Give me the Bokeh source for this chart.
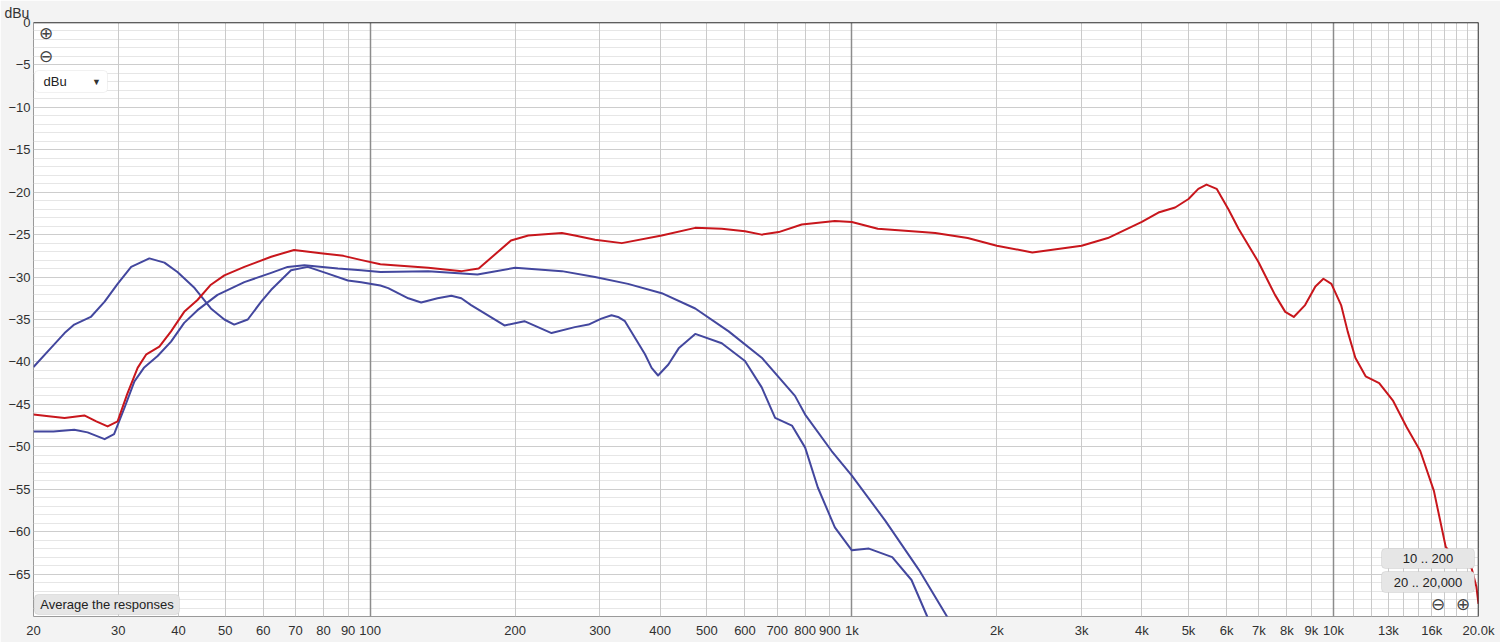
from bokeh.plotting import figure
from bokeh.models import FixedTicker, Grid, Span, Label, BoxAnnotation, Title
from bokeh.embed import file_html
from bokeh.resources import INLINE

# ---------------- data ----------------
red_freq = [20, 21.5, 23.2, 25.5, 27.0, 28.5, 29.9, 31.3, 32.9, 34.3, 36.5, 38.6, 41.1, 43.8, 46.7, 49.8,
            54.8, 62.3, 69.5, 79, 88, 96, 105, 112, 132, 155, 168, 181, 196, 213, 250, 266, 293, 333, 403,
            473, 537, 600, 650, 705, 787, 922, 1000, 1132, 1400, 1490, 1740, 2000, 2370, 3000, 3400, 4000,
            4330, 4690, 5000, 5240, 5450, 5720, 6050, 6350, 6980, 7560, 7940, 8270, 8730, 9170, 9530, 9900,
            10370, 10700, 11100, 11660, 12440, 13300, 14190, 15140, 16160, 17100, 18000, 19350, 19800, 20000]
red_db = [-46.2, -46.4, -46.6, -46.3, -47.0, -47.6, -47.0, -43.8, -40.7, -39.1, -38.2, -36.4, -34.1, -32.7,
          -30.9, -29.8, -28.8, -27.6, -26.8, -27.2, -27.5, -28.0, -28.5, -28.6, -28.9, -29.3, -29.0, -27.4,
          -25.7, -25.1, -24.8, -25.1, -25.6, -26.0, -25.1, -24.2, -24.3, -24.6, -25.0, -24.7, -23.8, -23.4,
          -23.5, -24.3, -24.7, -24.8, -25.4, -26.3, -27.1, -26.3, -25.4, -23.5, -22.4, -21.8, -20.8, -19.6,
          -19.1, -19.6, -22.0, -24.3, -28.2, -32.1, -34.1, -34.7, -33.3, -31.1, -30.2, -30.8, -33.3, -36.4,
          -39.5, -41.7, -42.5, -44.6, -47.7, -50.5, -55.2, -61.8, -63.3, -64.3, -66.5, -68.5]

blue1_freq = [20, 21.7, 23.2, 24.3, 26.3, 28.1, 29.9, 31.9, 34.8, 37.4, 39.8, 43.2, 46.7, 49.8, 52.2, 55.7,
              59.4, 62.3, 68.5, 74.2, 81.7, 89.9, 95.8, 105, 109, 120, 127.6, 138, 147.4, 154.6, 162, 190,
              209, 238, 266, 284, 302, 317, 327, 338, 372, 384, 396, 416, 437, 473, 537, 600, 650, 693, 751,
              800, 850, 922, 1000, 1085, 1213, 1330, 1434, 1520]
blue1_db = [-40.6, -38.4, -36.6, -35.6, -34.7, -32.9, -30.8, -28.8, -27.8, -28.3, -29.4, -31.3, -33.7, -35.0,
            -35.6, -35.0, -32.9, -31.5, -29.2, -28.8, -29.6, -30.4, -30.6, -31.0, -31.3, -32.5, -33.0, -32.5,
            -32.2, -32.5, -33.3, -35.7, -35.2, -36.6, -35.9, -35.6, -34.9, -34.5, -34.7, -35.2, -39.1, -40.7,
            -41.6, -40.3, -38.4, -36.7, -37.8, -39.9, -43.0, -46.6, -47.5, -50.1, -54.8, -59.5, -62.2, -62.0,
            -63.0, -65.7, -70.0, -72.5]

blue2_freq = [20, 22, 24.3, 25.9, 28.1, 29.4, 30.9, 32.4, 33.9, 36.2, 38.6, 41.1, 43.8, 48.2, 54.8, 62.3,
              67.4, 73, 85.7, 95.8, 105, 132, 167, 200, 250, 293, 343, 403, 473, 555, 650, 762, 800, 908,
              1000, 1173, 1378, 1576, 1700]
blue2_db = [-48.2, -48.2, -48.0, -48.3, -49.1, -48.5, -45.4, -42.3, -40.7, -39.3, -37.6, -35.4, -33.9, -32.1,
            -30.6, -29.5, -28.8, -28.6, -29.0, -29.2, -29.4, -29.3, -29.7, -28.9, -29.3, -30.0, -30.8, -31.9,
            -33.7, -36.4, -39.5, -44.0, -46.2, -50.5, -53.4, -58.7, -64.5, -70.0, -72.5]

x_label_ticks = [20, 30, 40, 50, 60, 70, 80, 90, 100, 200, 300, 400, 500, 600, 700, 800, 900, 1000,
                 2000, 3000, 4000, 5000, 6000, 7000, 8000, 9000, 10000, 13000, 16000, 20000]
x_label_text = ["20", "30", "40", "50", "60", "70", "80", "90", "100", "200", "300", "400", "500", "600",
                "700", "800", "900", "1k", "2k", "3k", "4k", "5k", "6k", "7k", "8k", "9k", "10k",
                "13k", "16k", "20.0k"]
x_minor_grid = [20, 30, 40, 50, 60, 70, 80, 90, 200, 300, 400, 500, 600, 700, 800, 900,
                2000, 3000, 4000, 5000, 6000, 7000, 8000, 9000,
                11000, 12000, 13000, 14000, 15000, 16000, 17000, 18000, 19000]
x_major_grid = [100, 1000, 10000]
y_label_ticks = [0, -5, -10, -15, -20, -25, -30, -35, -40, -45, -50, -55, -60, -65]
y_major_grid = [0, -5, -10, -15, -20, -25, -30, -35, -40, -45, -50, -55, -60, -65]
y_minor_grid = [v for v in range(-69, 0) if v % 5 != 0]
y_unit = "dBu"

RED = "#c8161c"
BLUE = "#43479e"
FONT = "Liberation Sans"

p = figure(width=1500, height=642, x_axis_type="log", x_range=(20, 20000), y_range=(-70, 0),
           output_backend="svg", toolbar_location=None, tools="")
p.min_border_left = 33
p.min_border_right = 22
p.min_border_top = 19
p.min_border_bottom = 26
p.border_fill_color = "#f3f3f3"
p.background_fill_color = "white"
p.outline_line_color = "#9a9a9a"
p.xgrid.visible = False
p.ygrid.visible = False

p.add_layout(Title(text=y_unit, align="left", offset=-29, standoff=4, text_font=FONT,
                   text_font_size="14px", text_font_style="normal", text_color="#333333"), "above")

# grids
p.add_layout(Grid(dimension=1, ticker=FixedTicker(ticks=y_minor_grid), grid_line_color="#e6e6e6", grid_line_width=1))
p.add_layout(Grid(dimension=1, ticker=FixedTicker(ticks=y_major_grid), grid_line_color="#cdcdcd", grid_line_width=1))
p.add_layout(Grid(dimension=0, ticker=FixedTicker(ticks=x_minor_grid), grid_line_color="#cacaca", grid_line_width=1))
p.add_layout(Grid(dimension=0, ticker=FixedTicker(ticks=x_major_grid), grid_line_color="#8c8c8c", grid_line_width=1.5))

# axes
xa = p.xaxis[0]
xa.ticker = FixedTicker(ticks=x_label_ticks)
xa.major_label_overrides = {t: s for t, s in zip(x_label_ticks, x_label_text)}
ya = p.yaxis[0]
ya.ticker = FixedTicker(ticks=y_label_ticks)
for ax in (xa, ya):
    ax.axis_line_color = None
    ax.major_tick_line_color = None
    ax.minor_tick_line_color = None
    ax.major_tick_out = 0
    ax.major_tick_in = 0
    ax.minor_tick_out = 0
    ax.minor_tick_in = 0
    ax.major_label_text_font = FONT
    ax.major_label_text_font_size = "13px"
    ax.major_label_text_color = "#303030"
xa.major_label_standoff = 6
ya.major_label_standoff = 3

# curves
p.line(x=blue2_freq, y=blue2_db, line_color=BLUE, line_width=2, line_join="round")
p.line(x=blue1_freq, y=blue1_db, line_color=BLUE, line_width=2, line_join="round")
p.line(x=red_freq, y=red_db, line_color=RED, line_width=2, line_join="round")

# top and right border
p.add_layout(Span(location=0, dimension="width", line_color="#222222", line_width=1.5))
p.add_layout(Span(location=20000, dimension="height", line_color="#222222", line_width=1.5))

# ---------------- UI decorations (screen units, relative to the frame) ----------------
def lab(sx, sy, text, size="13px", color="#222222", align="center", **kw):
    p.add_layout(Label(x=sx, y=sy, x_units="screen", y_units="screen", text=text, text_align=align,
                       text_baseline="middle", text_font=FONT, text_font_size=size, text_color=color, **kw))

def box(l, r, t, b, fill, line):
    p.add_layout(BoxAnnotation(left=l, right=r, top=t, bottom=b, left_units="screen", right_units="screen",
                               top_units="screen", bottom_units="screen", fill_color=fill, fill_alpha=1,
                               line_color=line, line_width=1, border_radius=4, level="annotation"))

lab(12, 583, "⊕", size="17px", color="#444444")
lab(12, 560, "⊖", size="17px", color="#444444")
box(1, 74, 546, 524, "white", "#cfcfcf")
lab(10, 535, "dBu", align="left")
lab(63, 535, "▼", size="9px", color="#333333")

box(1, 146, 22, 2, "#e6e6e6", "#b5b5b5")
lab(73.5, 12, "Average the responses")

box(1348, 1441, 68, 48, "#e6e6e6", "#b5b5b5")
lab(1394.5, 58, "10 .. 200")
box(1348, 1441, 45, 24, "#e6e6e6", "#b5b5b5")
lab(1394.5, 34.5, "20 .. 20,000")
lab(1404, 12, "⊖", size="17px", color="#444444")
lab(1429, 12, "⊕", size="17px", color="#444444")

open("out.html", "w").write(file_html(p, INLINE))
